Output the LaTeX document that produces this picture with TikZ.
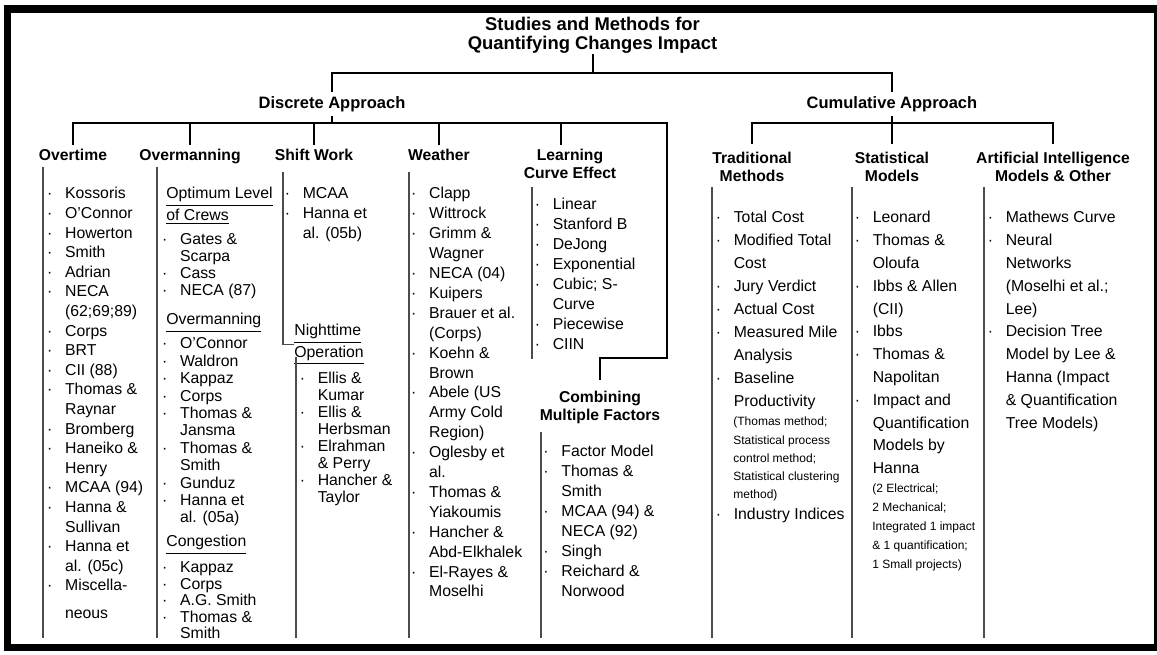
\documentclass[tikz,border=0pt]{standalone}
\usepackage{fontspec}
\setmainfont{Liberation Sans}
\usetikzlibrary{positioning}

\newcommand{\litem}{\strut\makebox[9pt][l]{\textperiodcentered}}
\newcommand{\lcont}{\strut\hspace*{9pt}}

\begin{document}
\begin{tikzpicture}[x=0.5pt,y=-0.5pt]
\tikzset{
  titlenode/.style={align=center,inner sep=0pt,font=\fontsize{9.2}{9.5}\selectfont\bfseries},
  approachnode/.style={inner sep=2pt,font=\fontsize{8.25}{10}\selectfont\bfseries},
  groupnode/.style={align=center,inner sep=2pt,font=\fontsize{7.85}{9}\selectfont\bfseries},
  subgroupnode/.style={anchor=north west,inner sep=0pt,align=left,font=\fontsize{7.9}{8.5}\selectfont},
  listnode/.style={anchor=north west,inner sep=0pt,align=left,font=\fontsize{7.9}{#1}\selectfont},
  smallnode/.style={anchor=north west,inner sep=0pt,align=left,font=\fontsize{6}{#1}\selectfont},
  treeedge/.style={draw=black,line width=1pt},
  listrule/.style={draw=black!70,line width=0.6pt}
}
\useasboundingbox (0,0) rectangle (1157,654);
\draw[line width=3.7pt] (7.4,9) rectangle (1157.7,647.7);

\node[titlenode,anchor=north] (n_title) at (592.5,17) {Studies and Methods for\\Quantifying Changes Impact};
\node[approachnode,anchor=north] (n_disc) at (332,92) {Discrete Approach};
\node[approachnode,anchor=north] (n_cum) at (892,92) {Cumulative Approach};

\node[groupnode,anchor=north] (n_overtime) at (73,145) {Overtime};
\node[groupnode,anchor=north] (n_overmanning) at (190,145) {Overmanning};
\node[groupnode,anchor=north] (n_shift) at (314,145) {Shift Work};
\node[groupnode,anchor=north] (n_weather) at (439,145) {Weather};
\node[groupnode,anchor=north] (n_learning) at (570,145) {Learning\\Curve Effect};
\node[groupnode,anchor=north,inner ysep=5.5pt] (n_combining) at (600,380) {Combining\\Multiple Factors};
\node[groupnode,anchor=north,inner ysep=4pt] (n_trad) at (752,144) {Traditional\\Methods};
\node[groupnode,anchor=north,inner ysep=4pt] (n_stat) at (892,144) {Statistical\\Models};
\node[groupnode,anchor=north,inner ysep=4pt] (n_ai) at (1053,144) {Artificial Intelligence\\Models \& Other};

\coordinate (c_top) at (592.5,72.7);
\coordinate (c_dbus) at (332,123);
\coordinate (c_cbus) at (892,123);
\coordinate (c_bend) at (667,358);

\draw[treeedge] (n_title) -- (c_top);
\draw[treeedge] (c_top) -| (n_disc);
\draw[treeedge] (c_top) -| (n_cum);
\draw[treeedge] (n_disc) -- (c_dbus);
\draw[treeedge] (c_dbus) -| (n_overtime);
\draw[treeedge] (c_dbus) -| (n_overmanning);
\draw[treeedge] (c_dbus) -| (n_shift);
\draw[treeedge] (c_dbus) -| (n_weather);
\draw[treeedge] (c_dbus) -| ([xshift=-4.5pt]n_learning.north);
\draw[treeedge] (c_dbus) -| (c_bend) -| (n_combining);
\draw[treeedge] (n_cum) -- (c_cbus);
\draw[treeedge] (c_cbus) -| (n_trad);
\draw[treeedge] (c_cbus) -| (n_stat);
\draw[treeedge] (c_cbus) -| (n_ai);

% overtime
\node[listnode=9.8] (n_ot_list) at (46.7,184.8) {\litem Kossoris\\\litem O’Connor\\\litem Howerton\\\litem Smith\\\litem Adrian\\\litem NECA\\\lcont (62;69;89)\\\litem Corps\\\litem BRT\\\litem CII (88)\\\litem Thomas \&\\\lcont Raynar\\\litem Bromberg\\\litem Haneiko \&\\\lcont Henry\\\litem MCAA (94)\\\litem Hanna \&\\\lcont Sullivan\\\litem Hanna et\\\lcont al. (05c)\\\litem Miscella-\\[4pt]\lcont neous};

% overmanning
\node[subgroupnode] (n_om_crews) at (166,186.6) {\strut\underline{Optimum Level}\\\strut\underline{of Crews}};
\node[listnode=8.5] (n_om_crews_list) at (161.7,232.6) {\litem Gates \&\\\lcont Scarpa\\\litem Cass\\\litem NECA (87)};
\node[subgroupnode] (n_om_men) at (166,312.6) {\strut\underline{Overmanning}};
\node[listnode=8.7] (n_om_men_list) at (161.7,336.3) {\litem O’Connor\\\litem Waldron\\\litem Kappaz\\\litem Corps\\\litem Thomas \&\\\lcont Jansma\\\litem Thomas \&\\\lcont Smith\\\litem Gunduz\\\litem Hanna et\\\lcont al. (05a)};
\node[subgroupnode] (n_om_cong) at (166,534.6) {\strut\underline{Congestion}};
\node[listnode=8.25] (n_om_cong_list) at (161.7,561) {\litem Kappaz\\\litem Corps\\\litem A.G. Smith\\\litem Thomas \&\\\lcont Smith};

% shift work
\node[listnode=10] (n_sw_list) at (284.4,184.5) {\litem MCAA\\\litem Hanna et\\\lcont al. (05b)};
\node[subgroupnode] (n_night) at (294,323.6) {\strut\underline{Nighttime}\\\strut\underline{Operation}};
\node[listnode=8.5] (n_night_list) at (299.4,371.6) {\litem Ellis \&\\\lcont Kumar\\\litem Ellis \&\\\lcont Herbsman\\\litem Elrahman\\\lcont \& Perry\\\litem Hancher \&\\\lcont Taylor};

% weather
\node[listnode=9.95] (n_wt_list) at (410.7,184.6) {\litem Clapp\\\litem Wittrock\\\litem Grimm \&\\\lcont Wagner\\\litem NECA (04)\\\litem Kuipers\\\litem Brauer et al.\\\lcont (Corps)\\\litem Koehn \&\\\lcont Brown\\\litem Abele (US\\\lcont Army Cold\\\lcont Region)\\\litem Oglesby et\\\lcont al.\\\litem Thomas \&\\\lcont Yiakoumis\\\litem Hancher \&\\\lcont Abd-Elkhalek\\\litem El-Rayes \&\\\lcont Moselhi};

% learning curve, combining
\node[listnode=9.95] (n_lc_list) at (534.4,195.6) {\litem Linear\\\litem Stanford B\\\litem DeJong\\\litem Exponential\\\litem Cubic; S-\\\lcont Curve\\\litem Piecewise\\\litem CIIN};
\node[listnode=9.95] (n_cf_list) at (543,442.6) {\litem Factor Model\\\litem Thomas \&\\\lcont Smith\\\litem MCAA (94) \&\\\lcont NECA (92)\\\litem Singh\\\litem Reichard \&\\\lcont Norwood};

% cumulative lists
\node[listnode=11.5] (n_tm_list) at (715.4,206.4) {\litem Total Cost\\\litem Modified Total\\\lcont Cost\\\litem Jury Verdict\\\litem Actual Cost\\\litem Measured Mile\\\lcont Analysis\\\litem Baseline\\\lcont Productivity};
\node[smallnode=9.15] (n_tm_note) at (733,412.5) {\strut(Thomas method;\\\strut Statistical process\\\strut control method;\\\strut Statistical clustering\\\strut method)};
\node[listnode=11.5] (n_tm_list2) at (715.4,503.4) {\litem Industry Indices};
\node[listnode=11.4] (n_st_list) at (854.4,206.5) {\litem Leonard\\\litem Thomas \&\\\lcont Oloufa\\\litem Ibbs \& Allen\\\lcont (CII)\\\litem Ibbs\\\litem Thomas \&\\\lcont Napolitan\\\litem Impact and\\\lcont Quantification\\\lcont Models by\\\lcont Hanna};
\node[smallnode=9.5] (n_st_note) at (872,479) {\strut(2 Electrical;\\\strut 2 Mechanical;\\\strut Integrated 1 impact\\\strut\& 1 quantification;\\\strut 1 Small projects)};
\node[listnode=11.4] (n_ai_list) at (987.4,206.5) {\litem Mathews Curve\\\litem Neural\\\lcont Networks\\\lcont (Moselhi et al.;\\\lcont Lee)\\\litem Decision Tree\\\lcont Model by Lee \&\\\lcont Hanna (Impact\\\lcont \& Quantification\\\lcont Tree Models)};

% list rules
\draw[listrule] (43,167) -- (43,638);
\draw[listrule] (157,167) -- (157,638);
\draw[listrule] (283,172) |- (n_night.west);
\draw[listrule] (296,357) -- (296,638);
\draw[listrule] (409,172) -- (409,638);
\draw[listrule] (532,187) -- (532,359);
\draw[listrule] (541,432) -- (541,638);
\draw[listrule] (712,187) -- (712,638);
\draw[listrule] (852,187) -- (852,638);
\draw[listrule] (984,187) -- (984,638);
\end{tikzpicture}
\end{document}
